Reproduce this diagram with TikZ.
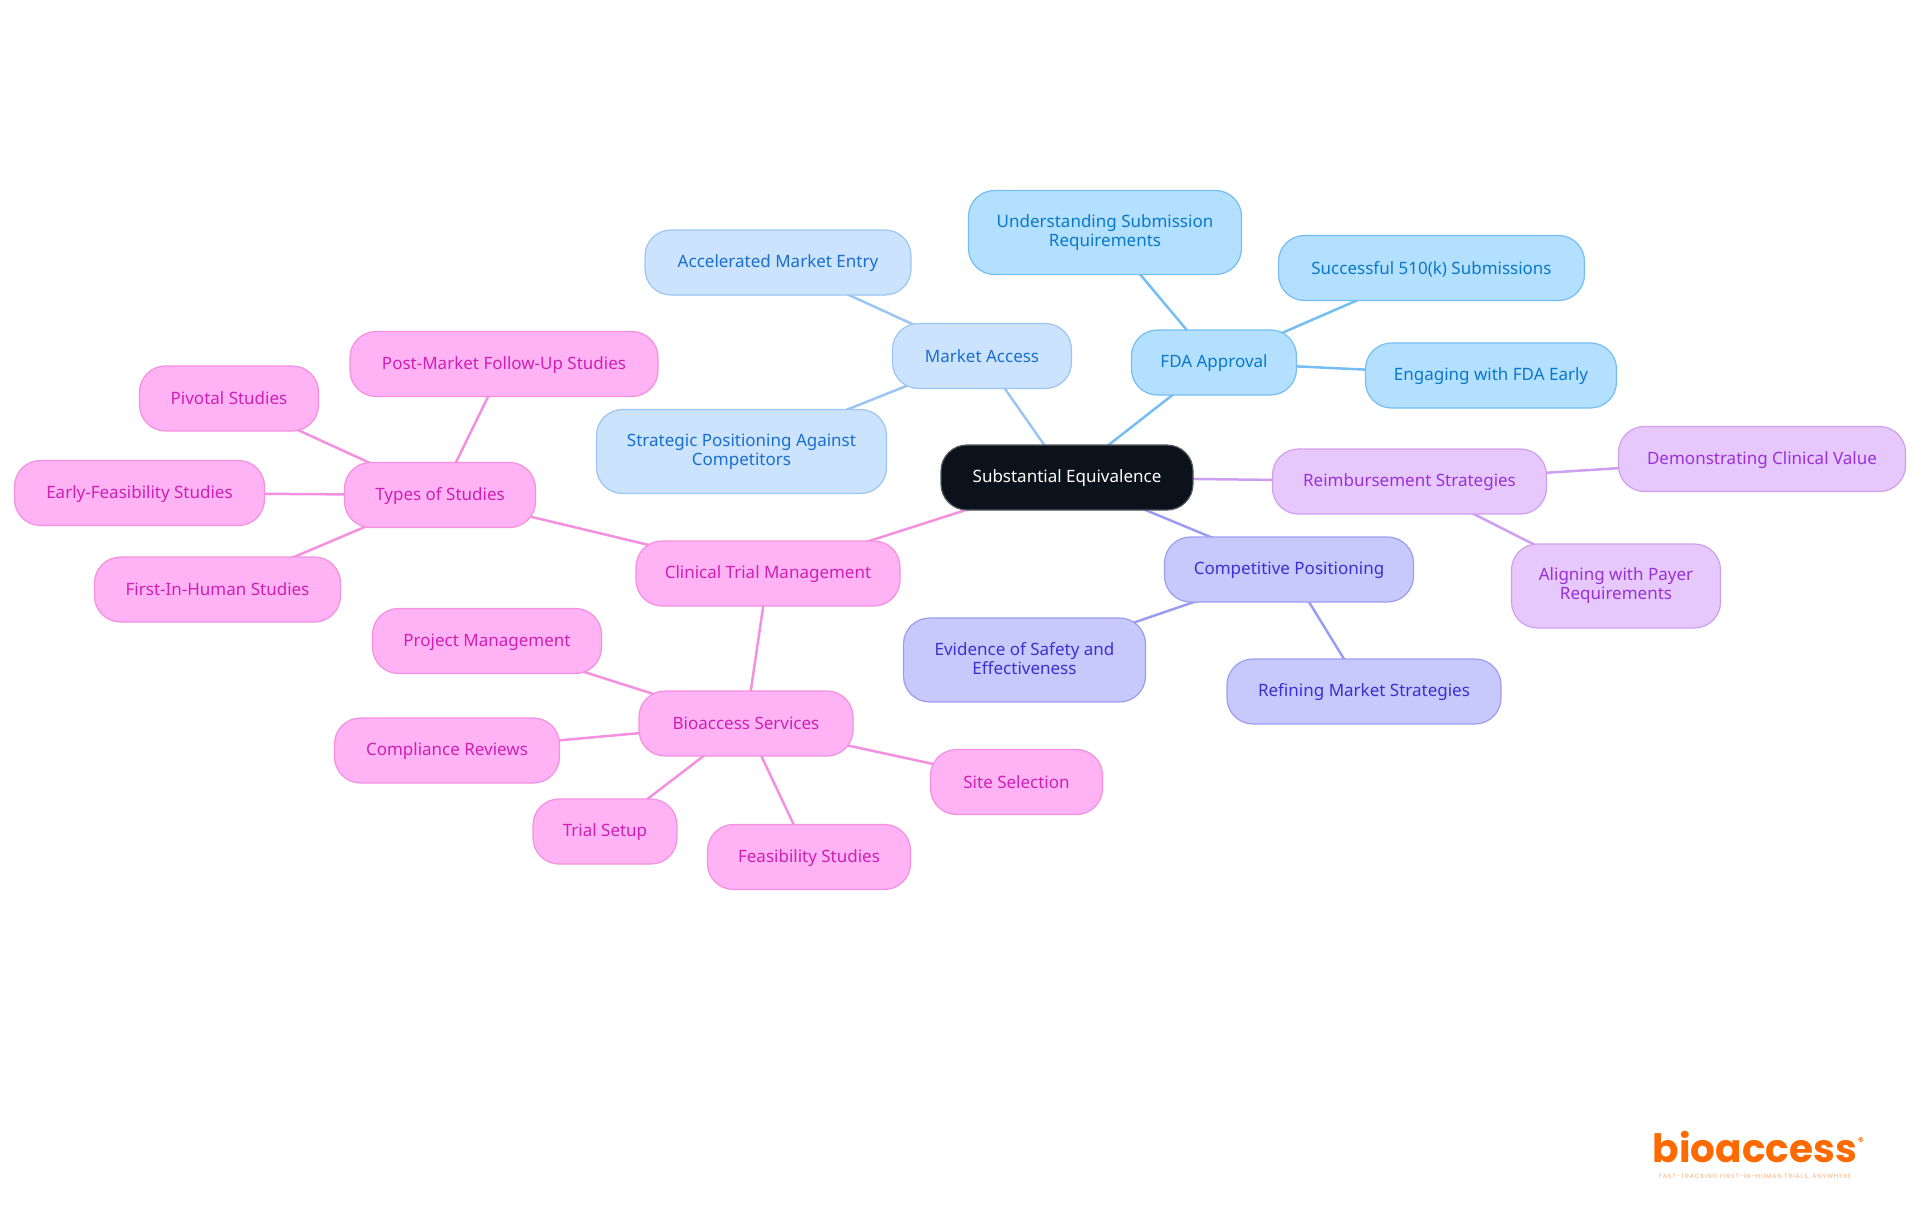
\documentclass[tikz,border=0pt]{standalone}
\usepackage{fontspec}
\setmainfont{Noto Sans}
\newfontfamily\logofont{Poppins}
\newfontfamily\tagfont[LetterSpace=14]{Poppins}
\usetikzlibrary{backgrounds}

\definecolor{accessfill}{HTML}{CCE3FD}
\definecolor{accessline}{HTML}{9CC6F2}
\definecolor{accesstext}{HTML}{1A6ED0}
\definecolor{fdafill}{HTML}{B3E0FF}
\definecolor{fdaline}{HTML}{74BEF2}
\definecolor{fdatext}{HTML}{0A78C8}
\definecolor{payfill}{HTML}{E6C8FC}
\definecolor{payline}{HTML}{CF9FEF}
\definecolor{paytext}{HTML}{9A30D8}
\definecolor{compfill}{HTML}{C7C9FC}
\definecolor{compline}{HTML}{9B9DF0}
\definecolor{comptext}{HTML}{3A30D0}
\definecolor{trialfill}{HTML}{FFB3F5}
\definecolor{trialline}{HTML}{F490E0}
\definecolor{trialtext}{HTML}{CF1FB5}
\definecolor{rootfill}{HTML}{0B121B}
\definecolor{logoorange}{HTML}{FF6A00}

\newcommand{\mapstrut}{\rule[-2.4pt]{0pt}{17.4pt}}

\tikzset{
  mapnode/.style={draw,rounded corners=26pt,minimum height=65pt,inner sep=0pt,align=center,line width=1.2pt,
    font=\fontsize{17}{19}\selectfont,execute at begin node=\mapstrut,execute at end node=\mapstrut},
  tall/.style={minimum height=84pt},
  rootnode/.style={mapnode,fill=rootfill,draw=rootfill!70!white,text=white},
  accessnode/.style={mapnode,fill=accessfill,draw=accessline,text=accesstext},
  fdanode/.style={mapnode,fill=fdafill,draw=fdaline,text=fdatext},
  paynode/.style={mapnode,fill=payfill,draw=payline,text=paytext},
  compnode/.style={mapnode,fill=compfill,draw=compline,text=comptext},
  trialnode/.style={mapnode,fill=trialfill,draw=trialline,text=trialtext},
  link/.style={line width=2.5pt},
}

\begin{document}
\begin{tikzpicture}[x=1pt,y=-1pt]
    \useasboundingbox (0,0) rectangle (1920,1215);

    \node[rootnode,minimum width=252pt] (root) at (1067,477.5) {Substantial Equivalence};

    % market access
    \node[accessnode,minimum width=179pt] (market) at (982,356) {Market Access};
    \node[accessnode,minimum width=266pt] (entry) at (778,262.5) {Accelerated Market Entry};
    \node[accessnode,tall,minimum width=290pt] (strategic) at (741.5,451.5) {Strategic Positioning Against\\Competitors};

    % fda
    \node[fdanode,minimum width=165pt] (fda) at (1214,362.5) {FDA Approval};
    \node[fdanode,tall,minimum width=273pt] (submission) at (1105,232.5) {Understanding Submission\\Requirements};
    \node[fdanode,minimum width=306pt] (successful) at (1431.5,268) {Successful 510(k) Submissions};
    \node[fdanode,minimum width=251pt] (engaging) at (1491,375.5) {Engaging with FDA Early};

    % reimbursement
    \node[paynode,minimum width=274pt] (reimburse) at (1409.5,481.5) {Reimbursement Strategies};
    \node[paynode,minimum width=287pt] (clinicalvalue) at (1762,459) {Demonstrating Clinical Value};
    \node[paynode,tall,minimum width=209pt] (payer) at (1616,586) {Aligning with Payer\\Requirements};

    % competitive
    \node[compnode,minimum width=249pt] (competitive) at (1289,569.5) {Competitive Positioning};
    \node[compnode,tall,minimum width=242pt] (evidence) at (1024.5,660) {Evidence of Safety and\\Effectiveness};
    \node[compnode,minimum width=274pt] (refining) at (1364,691.5) {Refining Market Strategies};

    % trials
    \node[trialnode,minimum width=264pt] (clinical) at (768,573.5) {Clinical Trial Management};
    \node[trialnode,minimum width=191pt] (types) at (440,495) {Types of Studies};
    \node[trialnode,minimum width=308pt] (postmarket) at (504,364) {Post-Market Follow-Up Studies};
    \node[trialnode,minimum width=179pt] (pivotal) at (229,398.5) {Pivotal Studies};
    \node[trialnode,minimum width=250pt] (early) at (139.5,493) {Early-Feasibility Studies};
    \node[trialnode,minimum width=246pt] (firsthuman) at (217.5,589.5) {First-In-Human Studies};
    \node[trialnode,minimum width=214pt] (services) at (746,723.5) {Bioaccess Services};
    \node[trialnode,minimum width=229pt] (project) at (487,641) {Project Management};
    \node[trialnode,minimum width=225pt] (compliance) at (447,750.5) {Compliance Reviews};
    \node[trialnode,minimum width=172pt] (site) at (1016.5,782) {Site Selection};
    \node[trialnode,minimum width=144pt] (setup) at (605,831.5) {Trial Setup};
    \node[trialnode,minimum width=203pt] (feasibility) at (809,857) {Feasibility Studies};

    % links run under the nodes
    \begin{scope}[on background layer={link}]
        \draw [accessline] (root.center)--(market.center);
        \draw [accessline] (market.center)--(entry.center);
        \draw [accessline] (market.center)--(strategic.center);
        \draw [fdaline] (root.center)--(fda.center);
        \draw [fdaline] (fda.center)--(submission.center);
        \draw [fdaline] (fda.center)--(successful.center);
        \draw [fdaline] (fda.center)--(engaging.center);
        \draw [payline] (root.center)--(reimburse.center);
        \draw [payline] (reimburse.center)--(clinicalvalue.center);
        \draw [payline] (reimburse.center)--(payer.center);
        \draw [compline] (root.center)--(competitive.center);
        \draw [compline] (competitive.center)--(evidence.center);
        \draw [compline] (competitive.center)--(refining.center);
        \draw [trialline] (root.center)--(clinical.center);
        \draw [trialline] (clinical.center)--(types.center);
        \draw [trialline] (clinical.center)--(services.center);
        \draw [trialline] (types.center)--(postmarket.center);
        \draw [trialline] (types.center)--(pivotal.center);
        \draw [trialline] (types.center)--(early.center);
        \draw [trialline] (types.center)--(firsthuman.center);
        \draw [trialline] (services.center)--(project.center);
        \draw [trialline] (services.center)--(compliance.center);
        \draw [trialline] (services.center)--(site.center);
        \draw [trialline] (services.center)--(setup.center);
        \draw [trialline] (services.center)--(feasibility.center);
    \end{scope}

    % logo
    \node[anchor=base,text=logoorange,inner sep=0pt,font=\logofont\bfseries\fontsize{39}{39}\selectfont] (logo) at (1755,1162) {bioaccess};
    \node[text=logoorange,inner sep=0pt,font=\logofont\bfseries\fontsize{11}{11}\selectfont] (logomark) at (1861,1142) {®};
    \node[text=logoorange!55,inner sep=0pt,font=\tagfont\fontsize{6.2}{7}\selectfont] (logotag) at (1755,1177) {FAST-TRACKING FIRST-IN-HUMAN TRIALS, ANYWHERE};
\end{tikzpicture}
\end{document}
